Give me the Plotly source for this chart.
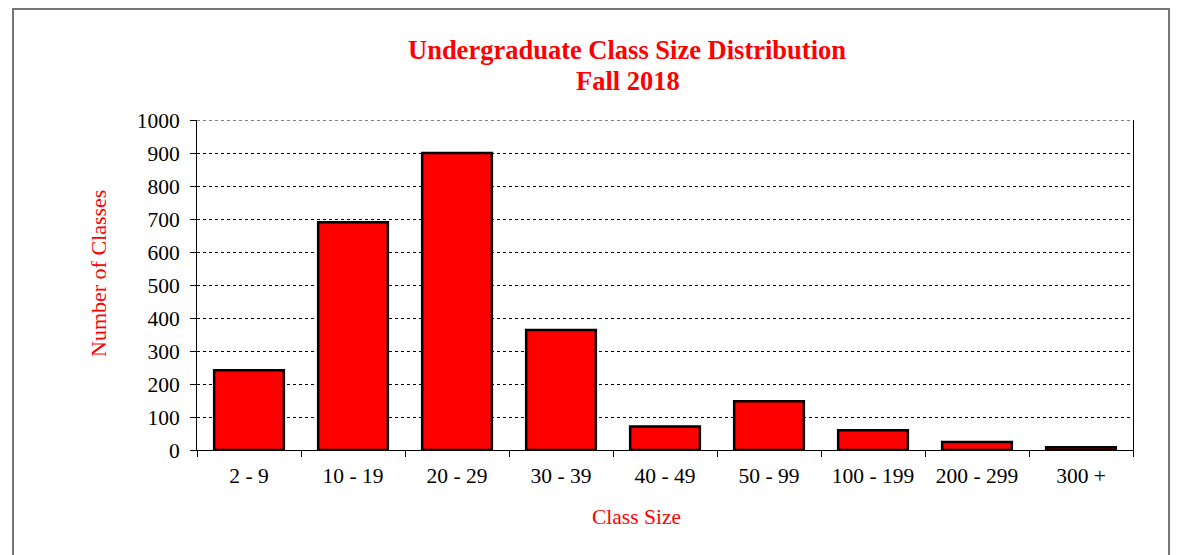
import plotly.graph_objects as go

categories = ["2 - 9", "10 - 19", "20 - 29", "30 - 39", "40 - 49", "50 - 99", "100 - 199", "200 - 299", "300 +"]
classes = [242, 690, 900, 364, 71, 148, 60, 24, 8]
y_ticks = list(range(0, 1001, 100))

OFF = 8  # default page body margin
W, H = 1179 - OFF, 555 - OFF
L, R, T, B = 197 - OFF, 1133 - OFF, 120 - OFF, 450 - OFF
pw, ph = R - L, B - T

def px(x):
    return (x - OFF - L) / pw

def py(y):
    return (B - (y - OFF)) / ph

FONT = "Liberation Serif, Times New Roman, serif"
RED = "#ff0000"

fig = go.Figure(go.Bar(
    x=categories, y=classes,
    marker=dict(color=RED, line=dict(color="black", width=2.5)),
    hoverinfo="x+y",
))

fig.update_layout(
    width=W, height=H,
    margin=dict(l=L, r=W - R, t=T, b=H - B, autoexpand=False),
    paper_bgcolor="white", plot_bgcolor="white",
    bargap=0.33,
    showlegend=False,
    font=dict(family=FONT, size=21.5, color="black"),
    xaxis=dict(
        showline=True, linecolor="black", linewidth=1,
        ticks="outside", ticklen=6, tickcolor="black", tickson="boundaries",
        showgrid=False, tickfont=dict(family=FONT, size=21.5, color="black"),
        ticklabelstandoff=6,
    ),
    yaxis=dict(
        range=[0, 1000], tickvals=y_ticks,
        showline=True, linecolor="black", linewidth=1, mirror=True,
        ticks="outside", ticklen=6, tickcolor="black",
        showgrid=True, gridcolor="black", gridwidth=1, griddash="dot",
        zeroline=False,
        tickfont=dict(family=FONT, size=21.5, color="black"),
        ticklabelstandoff=6,
    ),
    annotations=[
        dict(text="<b>Undergraduate Class Size Distribution</b>", x=px(627), y=py(50),
             xref="paper", yref="paper", showarrow=False,
             xanchor="center", yanchor="middle",
             font=dict(family=FONT, size=26.5, color=RED)),
        dict(text="<b>Fall 2018</b>", x=px(628), y=py(81),
             xref="paper", yref="paper", showarrow=False,
             xanchor="center", yanchor="middle",
             font=dict(family=FONT, size=26.5, color=RED)),
        dict(text="Number of Classes", textangle=-90, x=px(98), y=py(274),
             xref="paper", yref="paper", showarrow=False,
             xanchor="center", yanchor="middle",
             font=dict(family=FONT, size=22, color=RED)),
        dict(text="Class Size", x=px(636), y=py(517),
             xref="paper", yref="paper", showarrow=False,
             xanchor="center", yanchor="middle",
             font=dict(family=FONT, size=21.5, color=RED)),
    ],
    shapes=[
        dict(type="rect", xref="paper", yref="paper",
             x0=px(13), x1=px(1169), y0=py(570), y1=py(9),
             line=dict(color="#777777", width=2), layer="below"),
        dict(type="line", xref="paper", yref="y",
             x0=0, x1=1, y0=y_ticks[-1], y1=y_ticks[-1],
             line=dict(color="black", width=1, dash="dot"), layer="above"),
    ],
)

fig.write_html("out.html")
